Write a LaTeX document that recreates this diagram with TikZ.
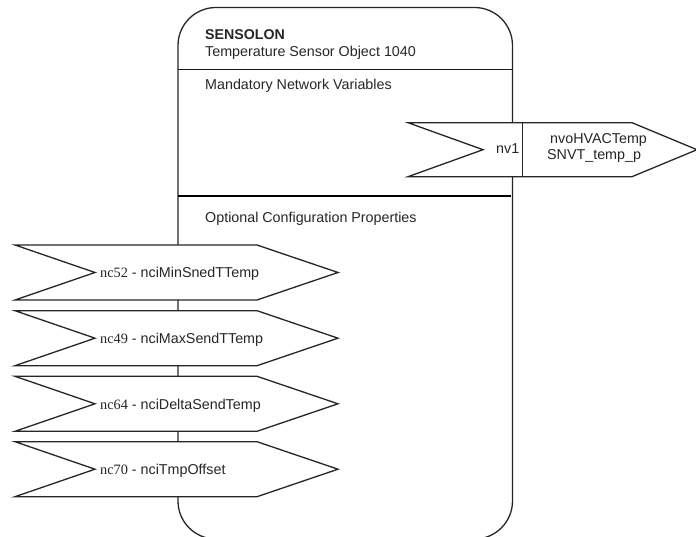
\documentclass[tikz,border=0pt]{standalone}
\usepackage{fontspec}
\setmainfont{Liberation Sans}
\newfontfamily\ncfont{Liberation Serif}
\begin{document}
\begin{tikzpicture}[x=1pt,y=-1pt,line join=miter,
  outline/.style={draw=black!85,line width=1.3pt},
  sepline/.style={draw=black!90,line width=1.2pt},
  thicksep/.style={draw=black,line width=2pt},
  lbl/.style={font=\fontsize{14.3}{16}\selectfont,text=black!85,inner sep=0pt,anchor=base west},
  boldlbl/.style={lbl,font=\fontsize{14.2}{16}\selectfont\bfseries}]
\useasboundingbox (0,0) rectangle (696,537);

% functional block outline
\draw[outline,rounded corners=38pt] (178,7.5) rectangle (512.5,539);
\draw[sepline] (178,69.3) -- (512.5,69.3);
\draw[thicksep] (178,196.5) -- (511,196.5);

\node[boldlbl] (title) at (205,39.5) {SENSOLON};
\node[lbl] (object) at (205,56.8) {Temperature Sensor Object 1040};
\node[lbl] (mandatory) at (205,89.3) {Mandatory Network Variables};
\node[lbl] (optional) at (205,222.7) {Optional Configuration Properties};

% output network variable
\draw[outline,fill=white] (408,122.7) -- (632,122.7) -- (697,149.7) -- (632,176.7)
  -- (408,176.7) -- (483,149.7) -- cycle;
\draw[outline] (522.8,122.7) -- (522.8,176.7);
\node[lbl,anchor=base east] (nv1) at (519.5,153.5) {nv1};
\node[lbl] (nvname) at (550,143.3) {nvoHVACTemp};
\node[lbl] (nvtype) at (547,159.3) {SNVT\_temp\_p};

% configuration properties
\foreach \t/\n/\lab [count=\i] in {245/nc52/nciMinSnedTTemp,310.7/nc49/nciMaxSendTTemp,
    376.3/nc64/nciDeltaSendTemp,441.7/nc70/nciTmpOffset}{
  \draw[outline,fill=white] (15,\t) -- (257,\t) -- (338,\t+27.5) -- (257,\t+55)
    -- (15,\t+55) -- (95,\t+27.5) -- cycle;
  \node[lbl] (cp\i) at (100,\t+33) {{\ncfont\n} - \lab};
}
\end{tikzpicture}
\end{document}
